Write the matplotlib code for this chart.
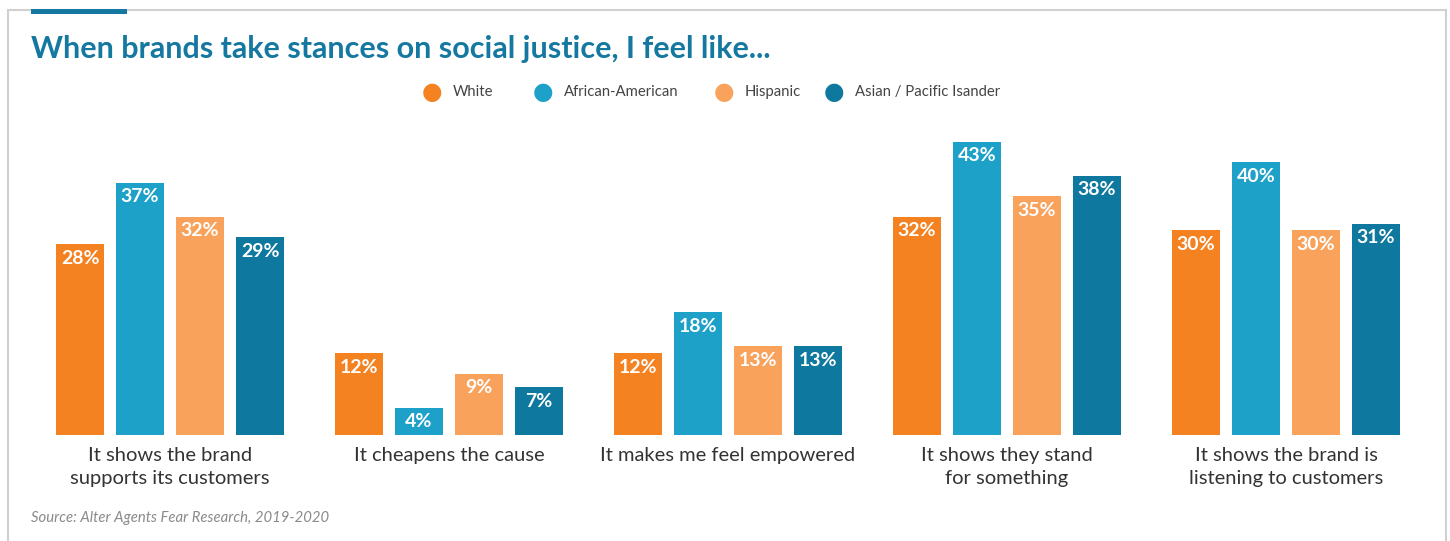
import matplotlib.pyplot as plt
from matplotlib.patches import Rectangle
import numpy as np

categories = ["It shows the brand\nsupports its customers", "It cheapens the cause",
              "It makes me feel empowered", "It shows they stand\nfor something",
              "It shows the brand is\nlistening to customers"]
series = ["White", "African-American", "Hispanic", "Asian / Pacific Isander"]
white = [28, 12, 12, 32, 30]
african_american = [37, 4, 18, 43, 40]
hispanic = [32, 9, 13, 35, 30]
asian = [29, 7, 13, 38, 31]
colors = ["#F58220", "#1DA1C8", "#F8A25C", "#0F789E"]

plt.rcParams["font.family"] = ["Lato", "DejaVu Sans"]

W, H = 1450, 541
fig = plt.figure(figsize=(W / 100, H / 100), dpi=100)

# frame and accent strip
fig.add_artist(Rectangle((8 / W, -0.1), 1438 / W, 1 - 10 / H + 0.1, transform=fig.transFigure,
                         fill=False, edgecolor="#D0D0D0", linewidth=1.5))
fig.add_artist(Rectangle((31 / W, 1 - 14 / H), 96 / W, 5 / H, transform=fig.transFigure,
                         facecolor="#1478A0", edgecolor="none"))

fig.text(31 / W, 1 - 49 / H, "When brands take stances on social justice, I feel like...",
         fontsize=22, fontweight="bold", color="#1478A0", va="center", ha="left")

# legend
leg_x = [432, 543, 724, 834]
for lx, name, c in zip(leg_x, series, colors):
    fig.text(lx / W, 1 - 92 / H, "\u25CF", color=c, fontsize=17, ha="center", va="center",
             family="DejaVu Sans")
    fig.text((lx + 21) / W, 1 - 92 / H, name, color="#444444", fontsize=10.7,
             ha="left", va="center")

ax = fig.add_axes([0, 1 - 435 / H, 1, 435 / H])
px_per_pct = 6.82
ax.set_ylim(0, 435 / px_per_pct)
ax.set_xlim(-170 / 279, (W - 170) / 279)
ax.axis("off")

x = np.arange(len(categories))
offsets = np.array([-90, -30, 30, 90]) / 279
bw = 48 / 279
for vals, off, c in zip([white, african_american, hispanic, asian], offsets, colors):
    bars = ax.bar(x + off, vals, width=bw, color=c)
    for b, v in zip(bars, vals):
        ax.text(b.get_x() + b.get_width() / 2, v - 14 / px_per_pct, f"{v}%",
                ha="center", va="center", color="white", fontsize=14, fontweight="bold")

for xi, cat in zip(x, categories):
    fig.text((170 + xi * 279) / W, 1 - 447 / H, cat, ha="center", va="top",
             fontsize=14.5, color="#333333", linespacing=1.42)

fig.text(31 / W, 1 - 518 / H, "Source: Alter Agents Fear Research, 2019-2020",
         fontsize=10.7, style="italic", color="#8A8A8A", ha="left", va="center")

fig.savefig("out.png", dpi=100, facecolor="white")
